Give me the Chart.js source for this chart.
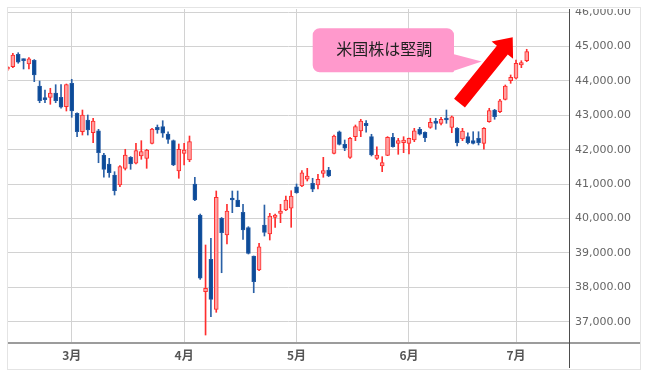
<!DOCTYPE html>
<html>
<head>
<meta charset="utf-8">
<script src="https://cdn.jsdelivr.net/npm/chart.js@4"></script>
<style>
  html, body { margin: 0; padding: 0; background: #fff; }
  #frame { position: absolute; left: 7px; top: 7px; width: 634px; height: 363px; box-sizing: border-box; border: 1px solid #e4e4e4; }
  #candles { position: absolute; left: 8px; top: 9px; }
</style>
</head>
<body>
<div id="frame"></div>
<canvas id="candles" width="632" height="359"></canvas>
<script>
// daily candles, Feb 12 - Jul 3
const dates = ['2/12','2/13','2/14','2/18','2/19','2/20','2/21','2/24','2/25','2/26','2/27','2/28',
  '3/3','3/4','3/5','3/6','3/7','3/10','3/11','3/12','3/13','3/14','3/17','3/18','3/19','3/20','3/21','3/24','3/25','3/26','3/27','3/28','3/31',
  '4/1','4/2','4/3','4/4','4/7','4/8','4/9','4/10','4/11','4/14','4/15','4/16','4/17','4/21','4/22','4/23','4/24','4/25','4/28','4/29','4/30',
  '5/1','5/2','5/5','5/6','5/7','5/8','5/9','5/12','5/13','5/14','5/15','5/16','5/19','5/20','5/21','5/22','5/23','5/27','5/28','5/29','5/30',
  '6/2','6/3','6/4','6/5','6/6','6/9','6/10','6/11','6/12','6/13','6/16','6/17','6/18','6/20','6/23','6/24','6/25','6/26','6/27','6/30',
  '7/1','7/2','7/3'];
const openP = [44340,44413,44773,44628,44491,44599,43852,43512,43523,43648,43523,43250,
  43930,43058,42523,42863,42494,42552,41846,41584,41265,40974,41459,41779,41605,41817,41750,42186,42651,42669,42456,42262,41381,
  41895,41701,41003,40102,37872,38814,37360,40006,39520,40576,40538,40180,39733,38910,38503,39811,39549,40035,40151,40247,40297,
  40924,40945,41140,41023,40974,41314,41410,41895,42523,42157,41779,42378,42544,42767,42378,41750,41526,41837,42360,42186,42204,
  42186,42282,42593,42506,42651,42834,42767,42913,42651,42622,42311,42378,42262,42331,42186,42814,43154,43105,43465,44006,
  44076,44462,44587];
const highP = [44420,44802,44820,44640,44675,44620,43997,43735,43785,43890,43890,43910,
  44047,43075,43154,43009,42913,42593,41895,41750,41361,41535,42012,41800,42186,42262,42012,42622,42718,42843,42523,42282,42166,
  42186,42398,41198,40130,39230,39424,40800,40030,40413,40799,40799,40413,39762,38910,39279,40392,40151,40131,40413,40654,40808,
  41003,41390,41459,41169,41285,41779,41488,42427,42543,42282,42360,42718,42884,42843,42448,42087,41797,42380,42477,42331,42378,
  42340,42622,42651,42523,42913,42913,42942,43154,42980,42640,42622,42494,42523,42523,42640,43204,43174,43465,43881,44172,
  44608,44587,44919];
const lowP = [44300,44384,44512,44346,44346,43977,43366,43366,43320,43366,43210,43125,
  42942,42378,42427,42427,42204,41622,41198,41198,40683,40924,41410,41430,41584,41721,41459,42166,42477,42360,42186,41535,41169,
  41555,41651,40517,38230,36613,37145,37273,38424,39259,40169,40343,39395,38968,37843,38483,39491,39375,39744,39878,40227,39744,
  40733,40924,41090,40779,40858,41198,41215,41875,42137,41971,41750,42262,42378,42506,41817,41721,41361,41826,42070,41866,41913,
  41875,42233,42427,42233,42622,42593,42718,42767,42494,42108,42262,42166,42166,42137,42012,42797,42884,43076,43446,43930,
  44055,44384,44558];
const closeP = [44400,44753,44541,44587,44645,44172,43424,43454,43648,43424,43233,43890,
  43125,42523,43009,42573,42834,41913,41430,41331,40808,41506,41846,41584,41971,41942,41991,42602,42573,42477,42302,41555,42012,
  41991,42233,40538,38262,37971,37651,40616,39587,40218,40538,40343,39666,38988,38163,39180,39599,40073,40102,40218,40538,40654,
  40750,41331,41235,40849,41140,41390,41235,42398,42157,42041,42331,42669,42834,42698,41846,41846,41622,42360,42087,42262,42282,
  42331,42552,42448,42349,42797,42767,42884,42863,42959,42204,42544,42204,42186,42204,42622,43134,42959,43424,43852,44105,
  44512,44529,44849];

const monthLabels = ['3月', '4月', '5月', '6月', '7月'];
const monthStarts = ['3/3', '4/1', '5/1', '6/2', '7/1'];
const priceTicks = [37000, 38000, 39000, 40000, 41000, 42000, 43000, 44000, 45000, 46000];
const calloutText = '米国株は堅調';

const isUp = dates.map((d, i) => closeP[i] >= openP[i]);
const bodies = dates.map((d, i) => ({ x: i, y: [Math.min(openP[i], closeP[i]), Math.max(openP[i], closeP[i])] }));
const wicks = dates.map((d, i) => ({ x: i, y: [lowP[i], highP[i]] }));
const monthIdx = monthStarts.map(m => dates.indexOf(m));

const overlay = {
    id: 'overlay',
    afterDraw(chart) {
        const c = chart.ctx, a = chart.chartArea;
        c.save();
        // bottom axis line (runs under the price labels too)
        c.strokeStyle = '#9c9c9c';
        c.lineWidth = 2;
        c.beginPath(); c.moveTo(0, a.bottom + 1); c.lineTo(chart.width, a.bottom + 1); c.stroke();
        // price axis line
        c.strokeStyle = '#4d4d4d';
        c.lineWidth = 1;
        c.beginPath(); c.moveTo(a.right + 0.5, 0); c.lineTo(a.right + 0.5, chart.height); c.stroke();

        // callout box
        const bx = 304.7, by = 19.3, bw = 141.3, bh = 44, r = 7;
        c.fillStyle = '#ff99cc';
        c.beginPath();
        c.moveTo(bx + r, by);
        c.lineTo(bx + bw - r, by);
        c.arcTo(bx + bw, by, bx + bw, by + r, r);
        c.lineTo(bx + bw, by + 26);
        c.lineTo(bx + bw + 27.7, by + 33.2);
        c.lineTo(bx + bw, by + 42.4);
        c.arcTo(bx + bw, by + bh, bx + bw - r, by + bh, 1.6);
        c.lineTo(bx + r, by + bh);
        c.arcTo(bx, by + bh, bx, by + bh - r, r);
        c.lineTo(bx, by + r);
        c.arcTo(bx, by, bx + r, by, r);
        c.closePath();
        c.fill();
        c.fillStyle = '#222';
        c.font = '16px "Noto Sans CJK JP", sans-serif';
        c.textAlign = 'center';
        c.textBaseline = 'middle';
        c.fillText(calloutText, bx + bw / 2 + 1, by + 20.5);

        // red arrow
        const tx = 451.5, ty = 94.2, px = 504.7, py = 28.3;
        const len = Math.hypot(px - tx, py - ty);
        const ux = (px - tx) / len, uy = (py - ty) / len;
        const nx = -uy, ny = ux;
        const headLen = 16.5, half = 7, wing = 13.8;
        const hx = px - ux * headLen, hy = py - uy * headLen;
        c.fillStyle = '#ff0000';
        c.beginPath();
        c.moveTo(tx - nx * half, ty - ny * half);
        c.lineTo(hx - nx * half, hy - ny * half);
        c.lineTo(hx - nx * wing, hy - ny * wing);
        c.lineTo(px, py);
        c.lineTo(hx + nx * wing, hy + ny * wing);
        c.lineTo(hx + nx * half, hy + ny * half);
        c.lineTo(tx + nx * half, ty + ny * half);
        c.closePath();
        c.fill();
        c.restore();
    }
};

const ctx = document.getElementById('candles').getContext('2d');

const chart = new Chart(ctx, {
    type: 'bar',
    data: {
        datasets: [
            {
                label: 'body',
                data: bodies,
                backgroundColor: isUp.map(u => u ? '#ffa0a0' : '#0c4b98'),
                borderColor: isUp.map(u => u ? '#ff2b2b' : '#2259a3'),
                borderWidth: 1,
                borderSkipped: false,
                barThickness: 4,
                minBarLength: 2,
                grouped: false,
                order: 0,
                clip: 0
            },
            {
                label: 'wick',
                data: wicks,
                backgroundColor: isUp.map(u => u ? '#ff2e2e' : '#2a60a6'),
                borderWidth: 0,
                barThickness: 1,
                grouped: false,
                order: 1,
                clip: 0
            }
        ]
    },
    options: {
        responsive: false,
        animation: false,
        devicePixelRatio: 1,
        layout: { padding: 0 },
        plugins: { legend: { display: false }, tooltip: { enabled: false } },
        scales: {
            x: {
                type: 'linear',
                min: 0.093,
                max: 104.9,
                offset: false,
                grid: { color: '#d2d2d2', drawTicks: false, offset: false },
                border: { display: false },
                afterBuildTicks: s => { s.ticks = monthIdx.map(v => ({ value: v })); },
                afterFit: s => { s.height = 26; s.paddingLeft = 0; s.paddingRight = 0; },
                ticks: {
                    autoSkip: false,
                    maxRotation: 0,
                    padding: 6,
                    color: '#555',
                    font: { family: '"Noto Sans CJK JP", sans-serif', size: 12, weight: 'bold' },
                    callback: (v, i) => monthLabels[i]
                }
            },
            y: {
                position: 'right',
                min: 36410,
                max: 46090,
                grid: { color: '#d2d2d2', drawTicks: false },
                border: { display: false },
                afterBuildTicks: s => { s.ticks = priceTicks.map(v => ({ value: v })); },
                afterFit: s => { s.width = 71; s.paddingTop = 0; s.paddingBottom = 0; },
                ticks: {
                    autoSkip: false,
                    padding: 6,
                    color: '#666',
                    font: { family: '"DejaVu Sans", sans-serif', size: 11 },
                    callback: v => v.toLocaleString('en-US', { minimumFractionDigits: 2, maximumFractionDigits: 2 })
                }
            }
        }
    },
    plugins: [overlay]
});
</script>
</body>
</html>
